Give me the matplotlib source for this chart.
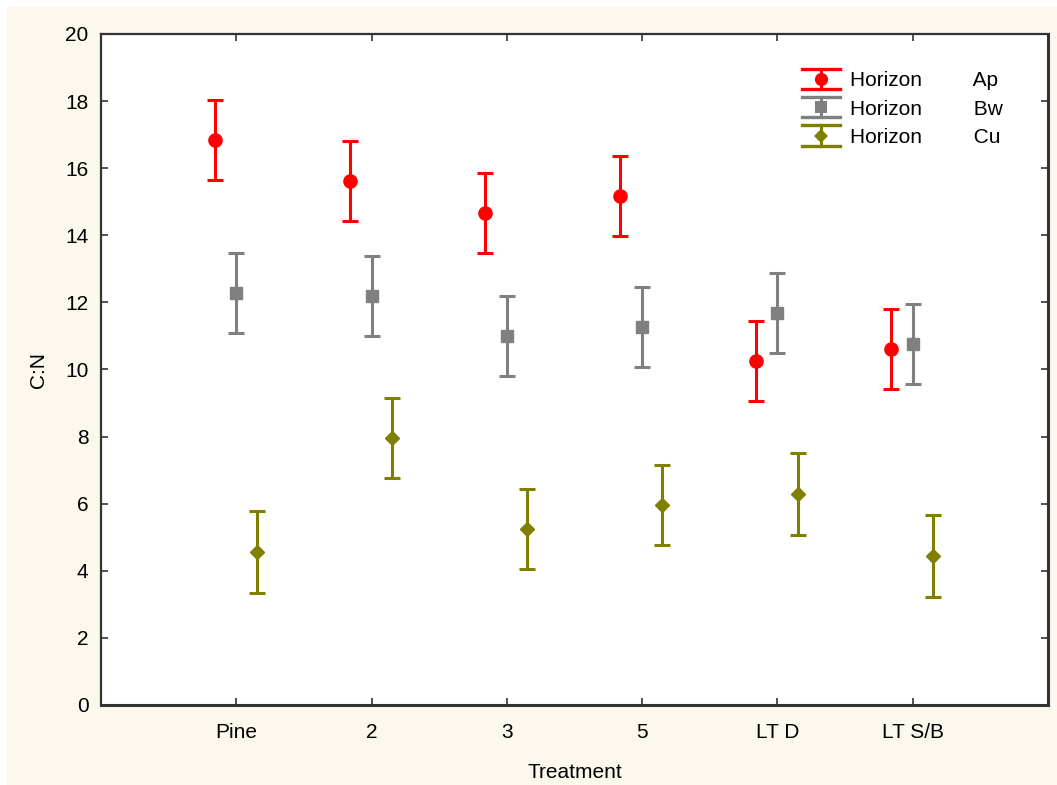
import matplotlib
matplotlib.use("Agg")
import matplotlib.pyplot as plt
from matplotlib.patches import Rectangle
from matplotlib.lines import Line2D
from matplotlib.legend_handler import HandlerBase
import numpy as np

plt.rcParams['font.family'] = ['Liberation Sans', 'DejaVu Sans']

treatments = ["Pine", "2", "3", "5", "LT D", "LT S/B"]
ap_mean = [16.84, 15.62, 14.66, 15.17, 10.25, 10.61]
ap_err = [1.20, 1.19, 1.20, 1.18, 1.20, 1.18]
bw_mean = [12.28, 12.19, 11.00, 11.27, 11.68, 10.76]
bw_err = [1.20, 1.20, 1.20, 1.20, 1.20, 1.20]
cu_mean = [4.56, 7.96, 5.25, 5.96, 6.29, 4.44]
cu_err = [1.22, 1.20, 1.20, 1.20, 1.22, 1.22]
series_labels = ["Horizon         Ap", "Horizon         Bw", "Horizon         Cu"]


class HandlerEB(HandlerBase):
    def create_artists(self, legend, orig_handle, xdescent, ydescent, width,
                       height, fontsize, trans):
        c = orig_handle.get_color()
        mk = orig_handle.get_marker()
        ms = orig_handle.get_markersize()
        yc = height / 2 - ydescent
        x0, x1 = -xdescent, -xdescent + width
        xm = (x0 + x1) / 2
        hh = 7.3
        arts = [
            Line2D([x0, x1], [yc + hh, yc + hh], color=c, lw=2.4),
            Line2D([x0, x1], [yc - hh, yc - hh], color=c, lw=2.4),
            Line2D([xm, xm], [yc - hh, yc + hh], color=c, lw=2.2),
            Line2D([xm], [yc], marker=mk, markersize=ms, color=c, lw=0,
                   markeredgewidth=0),
        ]
        for a in arts:
            a.set_transform(trans)
        return arts


W, H = 1057, 785
fig = plt.figure(figsize=(W / 100, H / 100), dpi=100, facecolor='white')
fig.patches.append(Rectangle((7 / W, 0), 1 - 7 / W, 1 - 7 / H, transform=fig.transFigure,
                             facecolor='#fdf8ee', edgecolor='none', zorder=-10))
ax = fig.add_axes([101 / W, 1 - 705 / H, (1048 - 101) / W, (705 - 34) / H])
ax.set_facecolor('white')

x = np.arange(1, len(treatments) + 1)
series = [
    (ap_mean, ap_err, '#ff0000', 'o', 9.5, -0.16),
    (bw_mean, bw_err, '#808080', 's', 9.0, 0.0),
    (cu_mean, cu_err, '#808000', 'D', 7.0, 0.15),
]
proxies = []
for (m, e, c, mk, ms, off), lab in zip(series, series_labels):
    ax.errorbar(x + off, m, yerr=e, fmt=mk, color=c, ecolor=c, markersize=ms,
                elinewidth=2.2, capsize=5.8, capthick=2.2)
    proxies.append(Line2D([], [], color=c, marker=mk, markersize=ms, label=lab))

ax.set_xlim(0, 7)
ax.set_ylim(0, 20)
ax.set_xticks(x)
ax.set_xticklabels(treatments)
ax.set_yticks(np.arange(0, 21, 2))
ax.tick_params(direction='in', top=True, right=True, length=5, width=1.2,
               labelsize=15, color='#333333')
ax.tick_params(axis='x', pad=13)
ax.tick_params(axis='y', pad=9)
for s in ax.spines.values():
    s.set_color('#333333')
    s.set_linewidth(1.6)
ax.spines['right'].set_linewidth(2.2)
ax.spines['bottom'].set_linewidth(2.2)

ax.set_xlabel("Treatment", fontsize=15, labelpad=15)
ax.set_ylabel("C:N", fontsize=15, labelpad=12)

leg = ax.legend(handles=proxies, handler_map={Line2D: HandlerEB()},
                loc='center left', bbox_to_anchor=(0.7315, 0.888),
                frameon=False, fontsize=15, handlelength=1.8, handletextpad=0.48,
                labelspacing=0.44, borderaxespad=0)

fig.savefig("out.png", dpi=100, facecolor=fig.get_facecolor())
